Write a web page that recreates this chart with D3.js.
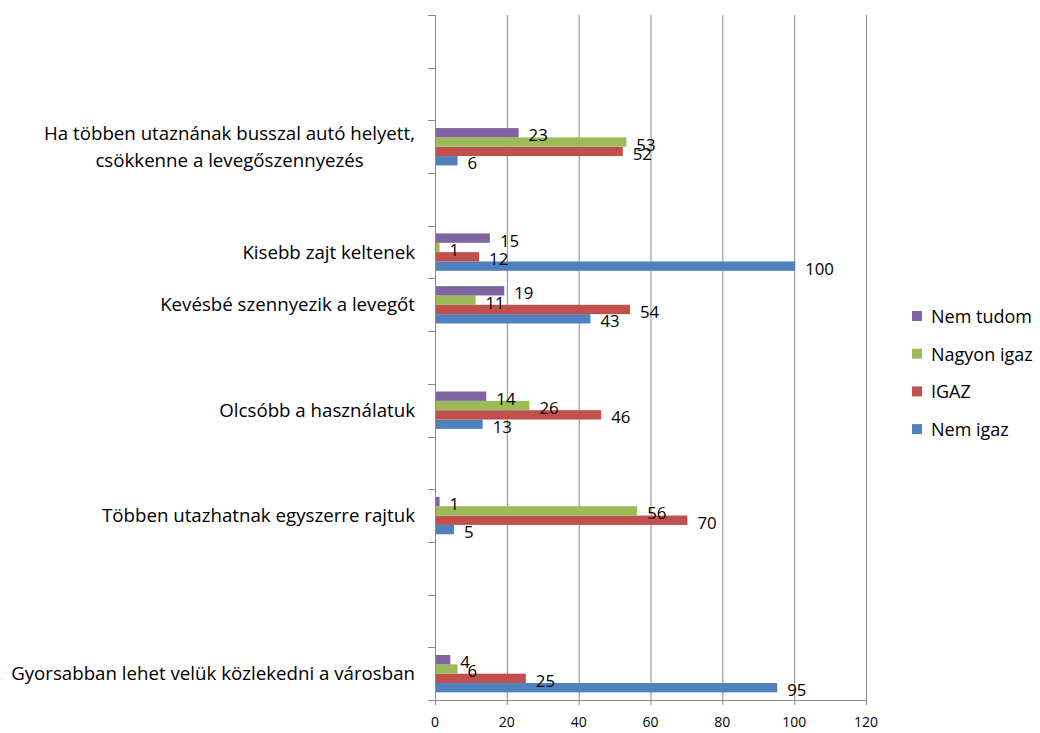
<!DOCTYPE html>
<html>
<head>
<meta charset="utf-8">
<script src="https://cdn.jsdelivr.net/npm/d3@7"></script>
<style>
  html, body { margin: 0; padding: 0; background: #fff; }
  svg { display: block; font-family: "Open Sans", Lato, sans-serif; }
</style>
</head>
<body>
<svg id="chart" width="1040" height="733"></svg>
<script>
// Category slots, bottom to top (empty strings are blank rows on the axis)
const categories = [
  "Gyorsabban lehet velük közlekedni a városban",
  "",
  "",
  "Többen utazhatnak egyszerre rajtuk",
  "",
  "Olcsóbb a használatuk",
  "",
  "Kevésbé szennyezik a levegőt",
  "Kisebb zajt keltenek",
  "",
  "Ha többen utaznának busszal autó helyett,|csökkenne a levegőszennyezés",
  "",
  ""
];

// Series, in drawing order from the bottom of each group upwards
const seriesNames = ["Nem igaz", "IGAZ", "Nagyon igaz", "Nem tudom"];
const nemIgaz    = [95, null, null, 5,  null, 13, null, 43, 100, null, 6,  null, null];
const igaz       = [25, null, null, 70, null, 46, null, 54, 12,  null, 52, null, null];
const nagyonIgaz = [6,  null, null, 56, null, 26, null, 11, 1,   null, 53, null, null];
const nemTudom   = [4,  null, null, 1,  null, 14, null, 19, 15,  null, 23, null, null];
const seriesValues = [nemIgaz, igaz, nagyonIgaz, nemTudom];
const seriesColors = ["#4F81BD", "#C0504D", "#9BBB59", "#8064A2"];

const xTicks = [0, 20, 40, 60, 80, 100, 120];

const svg = d3.select("#chart");
const plot = { left: 435, right: 866, top: 15, bottom: 700 };
const gridColor = "#898989";

const x = d3.scaleLinear().domain([0, 120]).range([plot.left, plot.right]);
const y = d3.scaleBand()
  .domain(d3.range(categories.length))
  .range([plot.bottom, plot.top])
  .paddingInner(0).paddingOuter(0);

// Bars in each group fill the band minus a gap (gap width ~41%)
const groupH = y.bandwidth() / 1.41;
const inner = d3.scaleBand()
  .domain(d3.range(seriesNames.length))
  .range([groupH, 0]);

// Vertical gridlines
svg.append("g")
  .selectAll("line")
  .data(xTicks)
  .join("line")
  .attr("x1", d => x(d) + 0.5).attr("x2", d => x(d) + 0.5)
  .attr("y1", plot.top).attr("y2", plot.bottom + 5)
  .attr("stroke", gridColor).attr("stroke-width", 1);

// Horizontal axis line
svg.append("line")
  .attr("x1", plot.left).attr("x2", plot.right + 1)
  .attr("y1", plot.bottom + 0.5).attr("y2", plot.bottom + 0.5)
  .attr("stroke", gridColor);

// Category axis ticks at band boundaries
const boundaries = d3.range(categories.length + 1);
svg.append("g")
  .selectAll("line")
  .data(boundaries)
  .join("line")
  .attr("x1", plot.left - 7).attr("x2", plot.left)
  .attr("y1", i => Math.round(plot.bottom - i * y.bandwidth()) + 0.5)
  .attr("y2", i => Math.round(plot.bottom - i * y.bandwidth()) + 0.5)
  .attr("stroke", gridColor);

// Value axis labels
svg.append("g")
  .selectAll("text")
  .data(xTicks)
  .join("text")
  .attr("x", d => x(d))
  .attr("y", 727)
  .attr("text-anchor", "middle")
  .attr("font-size", 14)
  .attr("fill", "#000")
  .text(d => d);

// Bars
const groups = svg.append("g")
  .selectAll("g")
  .data(categories.map((c, i) => i).filter(i => nemIgaz[i] !== null))
  .join("g")
  .attr("transform", i => `translate(0,${y(i) + (y.bandwidth() - groupH) / 2})`);

groups.selectAll("rect")
  .data(i => seriesValues.map((vals, s) => ({ s, v: vals[i] })))
  .join("rect")
  .attr("x", plot.left + 1)
  .attr("y", d => inner(d.s))
  .attr("width", d => x(d.v) - x(0))
  .attr("height", inner.bandwidth())
  .attr("fill", d => seriesColors[d.s]);

// Data labels just past each bar end
groups.selectAll("text")
  .data(i => seriesValues.map((vals, s) => ({ s, v: vals[i] })))
  .join("text")
  .attr("x", d => x(d.v) + 11)
  .attr("y", d => inner(d.s) + inner.bandwidth() / 2 + 2)
  .attr("dominant-baseline", "central")
  .attr("font-size", 16.8)
  .attr("fill", "#000")
  .text(d => d.v);

// Category labels (right aligned, multi-line labels centred within their block)
const labelRight = 415;
const catFont = 18.7;
categories.forEach((c, i) => {
  if (!c) return;
  const lines = c.split("|");
  const t = svg.append("text")
    .attr("font-size", catFont)
    .attr("fill", "#000");
  const lineH = 27;
  const cy = y(i) + y.bandwidth() / 2 - 1;
  lines.forEach((ln, k) => {
    t.append("tspan").text(ln)
      .attr("dominant-baseline", "central")
      .attr("y", cy + (k - (lines.length - 1) / 2) * lineH);
  });
  // measure to right-align the block and centre shorter lines
  const widths = t.selectAll("tspan").nodes().map(n => n.getComputedTextLength());
  const blockW = d3.max(widths);
  t.selectAll("tspan").each(function(_, k) {
    d3.select(this).attr("x", labelRight - blockW + (blockW - widths[k]) / 2);
  });
});

// Legend (top entry is the last series)
const legendRows = seriesNames.map((n, s) => ({ n, s })).reverse();
const legend = svg.append("g")
  .selectAll("g")
  .data(legendRows)
  .join("g")
  .attr("transform", (d, k) => `translate(912,${316 + k * 37.7})`);
legend.append("rect")
  .attr("x", 0).attr("y", -5)
  .attr("width", 10).attr("height", 10)
  .attr("fill", d => seriesColors[d.s]);
legend.append("text")
  .attr("x", 19).attr("y", 0)
  .attr("dominant-baseline", "central")
  .attr("font-size", 18)
  .attr("fill", "#000")
  .text(d => d.n);
</script>
</body>
</html>
